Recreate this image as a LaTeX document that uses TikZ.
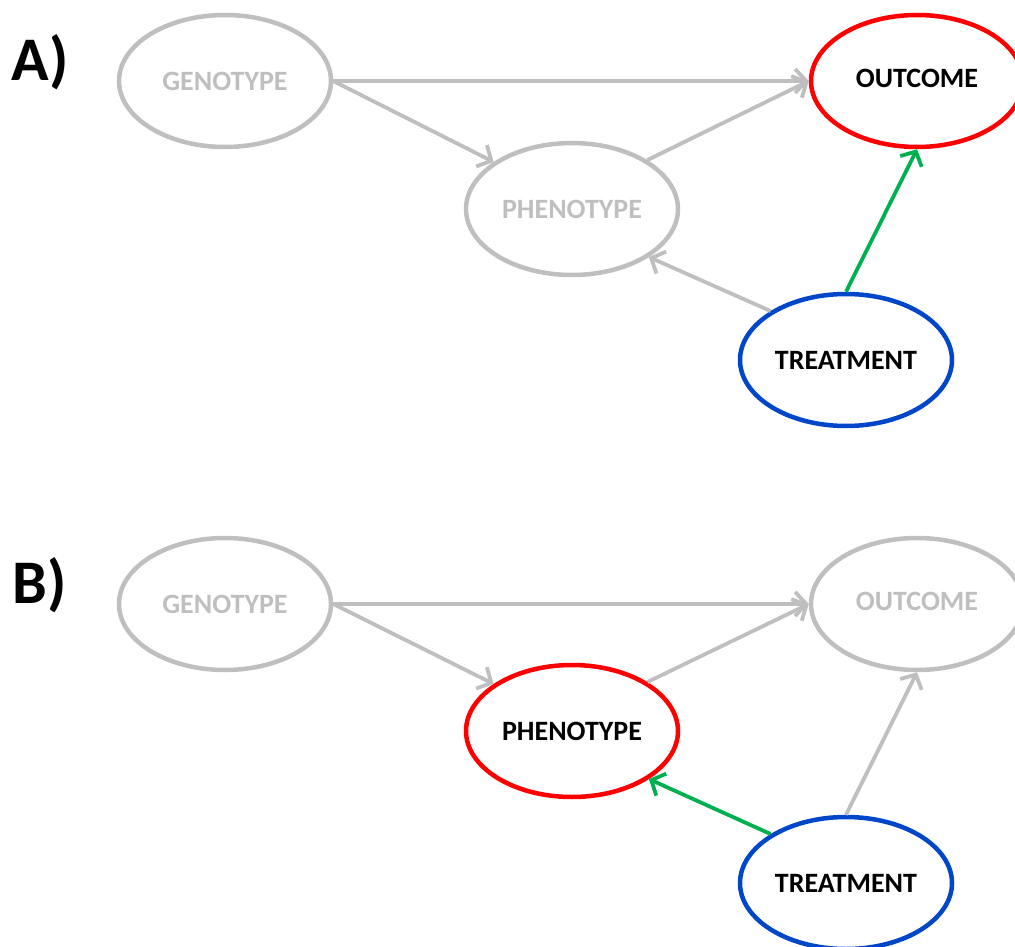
\documentclass[tikz,border=0pt]{standalone}
\usepackage{fontspec}
\setmainfont{Carlito}
\usetikzlibrary{shapes.geometric,arrows.meta}
\definecolor{linkgray}{HTML}{BFBFBF}
\definecolor{focusred}{HTML}{FF0000}
\definecolor{treatblue}{HTML}{0046C8}
\definecolor{effectgreen}{HTML}{00B050}
\begin{document}
\begin{tikzpicture}[x=1pt,y=-1pt,
  var/.style={ellipse, draw=linkgray, line width=4.5pt, minimum width=212pt,
    minimum height=132pt, inner sep=0pt,
    font=\fontsize{28}{32}\selectfont\bfseries, text=linkgray},
  focusvar/.style={var, draw=focusred, text=black},
  treatvar/.style={var, draw=treatblue, text=black},
  link/.style={draw=linkgray, line width=3.8pt,
    -{Straight Barb[length=11pt,width=24pt]}},
  effect/.style={link, draw=effectgreen},
  panel/.style={font=\fontsize{62}{70}\selectfont\bfseries}]
\useasboundingbox (0,0) rectangle (1015,947);

% Panel A: treatment acting on the outcome
\node[panel] (labA) at (40,62) {A)};
\node[var] (genA) at (225,81) {GENOTYPE};
\node[focusvar] (outA) at (917,81) {\raisebox{6pt}{OUTCOME}};
\node[var] (phenA) at (572,209) {PHENOTYPE};
\node[treatvar] (treatA) at (846,360) {TREATMENT};
\draw[link] (genA.east) -- (outA.west);
\draw[link] (genA.east) -- (phenA.149);
\draw[link] (phenA.33) -- (outA.west);
\draw[link] (treatA.147) -- (phenA.-32);
\draw[effect] (treatA.north) -- (outA.south);

% Panel B: treatment acting on the phenotype
\node[panel] (labB) at (40,585) {B)};
\node[var] (genB) at (225,604) {GENOTYPE};
\node[var] (outB) at (917,604) {\raisebox{6pt}{OUTCOME}};
\node[focusvar] (phenB) at (572,731) {PHENOTYPE};
\node[treatvar] (treatB) at (846,883) {TREATMENT};
\draw[link] (genB.east) -- (outB.west);
\draw[link] (genB.east) -- (phenB.149);
\draw[link] (phenB.33) -- (outB.west);
\draw[link] (treatB.north) -- (outB.south);
\draw[effect] (treatB.147) -- (phenB.-32);
\end{tikzpicture}
\end{document}
